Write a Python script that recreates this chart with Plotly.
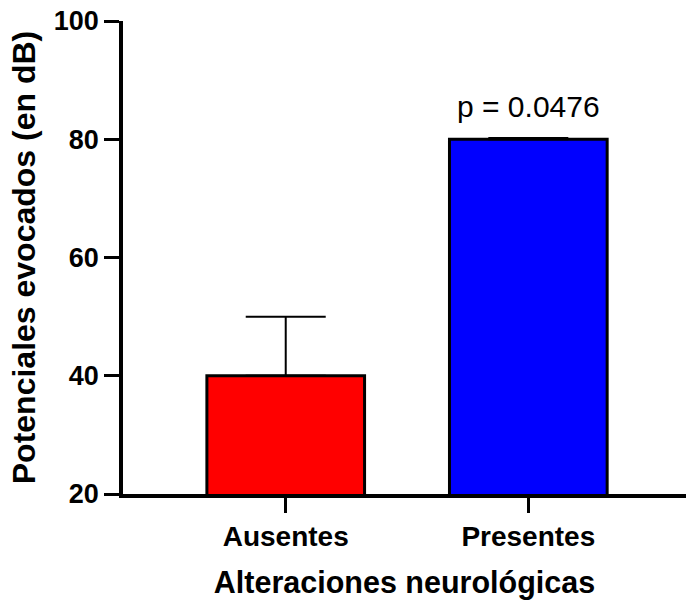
import plotly.graph_objects as go

categories = ["Ausentes", "Presentes"]
means = [40, 80]
err_up = [10, 0.2]
err_down = [0, 0]
colors = ["#FF0000", "#0000FF"]
y_ticks = [20, 40, 60, 80, 100]
p_text = "p = 0.0476"

FONT = "Liberation Sans, Arial, sans-serif"
x_pos = list(range(len(categories)))

fig = go.Figure()
fig.add_bar(
    x=x_pos, y=means, width=0.65,
    marker=dict(color=colors, line=dict(color="black", width=3)),
    error_y=dict(type="data", symmetric=False, array=err_up, arrayminus=err_down,
                 color="black", thickness=2, width=40),
)

fig.add_annotation(x=1, y=85.6, text=p_text, showarrow=False, xref="x", yref="y",
                   yanchor="middle", font=dict(family=FONT, size=30, color="black"))

fig.update_layout(
    width=686, height=609,
    margin=dict(l=123, r=0, t=21, b=115),
    paper_bgcolor="white", plot_bgcolor="white",
    showlegend=False,
    font=dict(family=FONT, color="black"),
)
fig.update_xaxes(
    range=[-0.6708, 1.65], tickvals=x_pos, ticktext=[f"<b>{c}</b>" for c in categories],
    showline=True, linecolor="black", linewidth=3.5, showgrid=False, zeroline=False,
    ticks="outside", ticklen=15, tickwidth=3, tickcolor="black",
    tickfont=dict(family=FONT, size=28, color="black"),
    title=dict(text="<b>Alteraciones neurológicas</b>", font=dict(family=FONT, size=30.5, color="black"), standoff=21),
)
fig.update_yaxes(
    range=[20, 100], tickvals=y_ticks, ticktext=[f"<b>{t}</b>" for t in y_ticks],
    showline=True, linecolor="black", linewidth=3.5, showgrid=False, zeroline=False,
    ticks="outside", ticklen=15, tickwidth=3, tickcolor="black",
    tickfont=dict(family=FONT, size=27, color="black"),
    title=dict(text="<b>Potenciales evocados (en dB)</b>", font=dict(family=FONT, size=32, color="black"), standoff=10),
)

fig.write_html("out.html")
